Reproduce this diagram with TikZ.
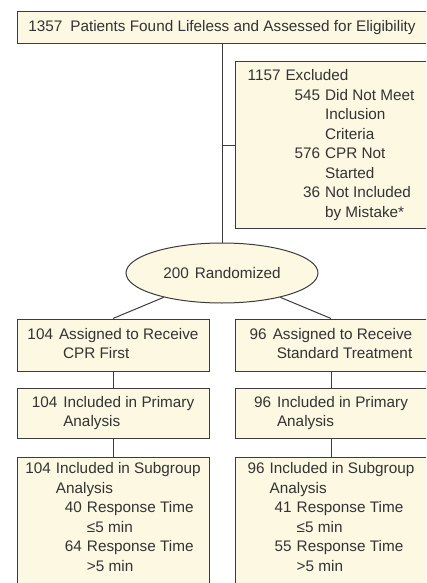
\documentclass[tikz,border=0pt]{standalone}
\usepackage{fontspec}
\setmainfont{Liberation Sans}
\usetikzlibrary{shapes.geometric}

\definecolor{boxfill}{HTML}{FCF8E2}
\definecolor{boxline}{HTML}{3C3C3C}
\definecolor{boxtext}{HTML}{333333}

\tikzset{
  flowbox/.style={draw=boxline, fill=boxfill, line width=1pt, inner sep=0pt,
    minimum width=192pt, text=boxtext},
  flowline/.style={draw=boxline, line width=1pt},
}

\begin{document}
\begin{tikzpicture}[x=1pt, y=-1pt, font=\fontsize{15.3}{19.5}\selectfont]

\useasboundingbox (0,0) rectangle (426,583);
\clip (0,0) rectangle (426,583);

% Screening and exclusions
\node[flowbox, minimum width=410pt, minimum height=32pt] (screen) at (222,28)
  {\begin{tabular}{@{}r@{\hspace{8pt}}l@{}}1357 & Patients Found Lifeless and Assessed for Eligibility\end{tabular}};
\node[flowbox, minimum height=166pt] (excl) at (331,145)
  {\begin{tabular}{@{}r@{\hspace{5pt}}r@{\hspace{5pt}}l@{}}
    1157 & \multicolumn{2}{@{}l@{}}{Excluded}\\
     & \hspace{9pt}545 & Did Not Meet\\
     & & Inclusion\\
     & & Criteria\\
     & 576 & CPR Not\\
     & & Started\\
     & 36 & Not Included\\
     & & by Mistake*
  \end{tabular}};

% Randomization
\node[flowbox, ellipse, minimum height=60pt] (rand) at (222,273) {200\hspace{6pt}Randomized};

% CPR first arm
\node[flowbox, minimum height=52pt] (assignL) at (113,345)
  {\begin{tabular}{@{}r@{\hspace{6pt}}l@{}}104 & Assigned to Receive\\ & \hspace{4pt}CPR First\end{tabular}};
\node[flowbox, minimum height=50pt] (primL) at (113,413)
  {\begin{tabular}{@{}r@{\hspace{6pt}}l@{}}104 & Included in Primary\\ & Analysis\end{tabular}};
\node[flowbox, minimum height=140pt, anchor=north] (subL) at (113,457)
  {\begin{tabular}{@{}r@{\hspace{5pt}}r@{\hspace{5pt}}l@{}}
    104 & \multicolumn{2}{@{}l@{}}{Included in Subgroup}\\
     & \multicolumn{2}{@{}l@{}}{Analysis}\\
     & \hspace{9pt}40 & Response Time\\
     & & ≤5 min\\
     & 64 & Response Time\\
     & & >5 min\\[18pt]
  \end{tabular}};

% Standard treatment arm
\node[flowbox, minimum height=52pt] (assignR) at (331,345)
  {\begin{tabular}{@{}r@{\hspace{6pt}}l@{}}96 & Assigned to Receive\\ & \hspace{4pt}Standard Treatment\end{tabular}};
\node[flowbox, minimum height=50pt] (primR) at (331,413)
  {\begin{tabular}{@{}r@{\hspace{6pt}}l@{}}96 & Included in Primary\\ & Analysis\end{tabular}};
\node[flowbox, minimum height=140pt, anchor=north] (subR) at (331,457)
  {\begin{tabular}{@{}r@{\hspace{5pt}}r@{\hspace{5pt}}l@{}}
    96 & \multicolumn{2}{@{}l@{}}{Included in Subgroup}\\
     & \multicolumn{2}{@{}l@{}}{Analysis}\\
     & \hspace{5pt}41 & Response Time\\
     & & ≤5 min\\
     & 55 & Response Time\\
     & & >5 min\\[18pt]
  \end{tabular}};

% Connectors
\draw[flowline] (screen) -- (rand);
\draw[flowline] (screen.south |- excl.west) -- (excl.west);
\draw[flowline] (rand) -- (assignL.north);
\draw[flowline] (rand) -- (assignR.north);
\draw[flowline] (assignL) -- (primL);
\draw[flowline] (primL) -- (subL);
\draw[flowline] (assignR) -- (primR);
\draw[flowline] (primR) -- (subR);

\end{tikzpicture}
\end{document}
